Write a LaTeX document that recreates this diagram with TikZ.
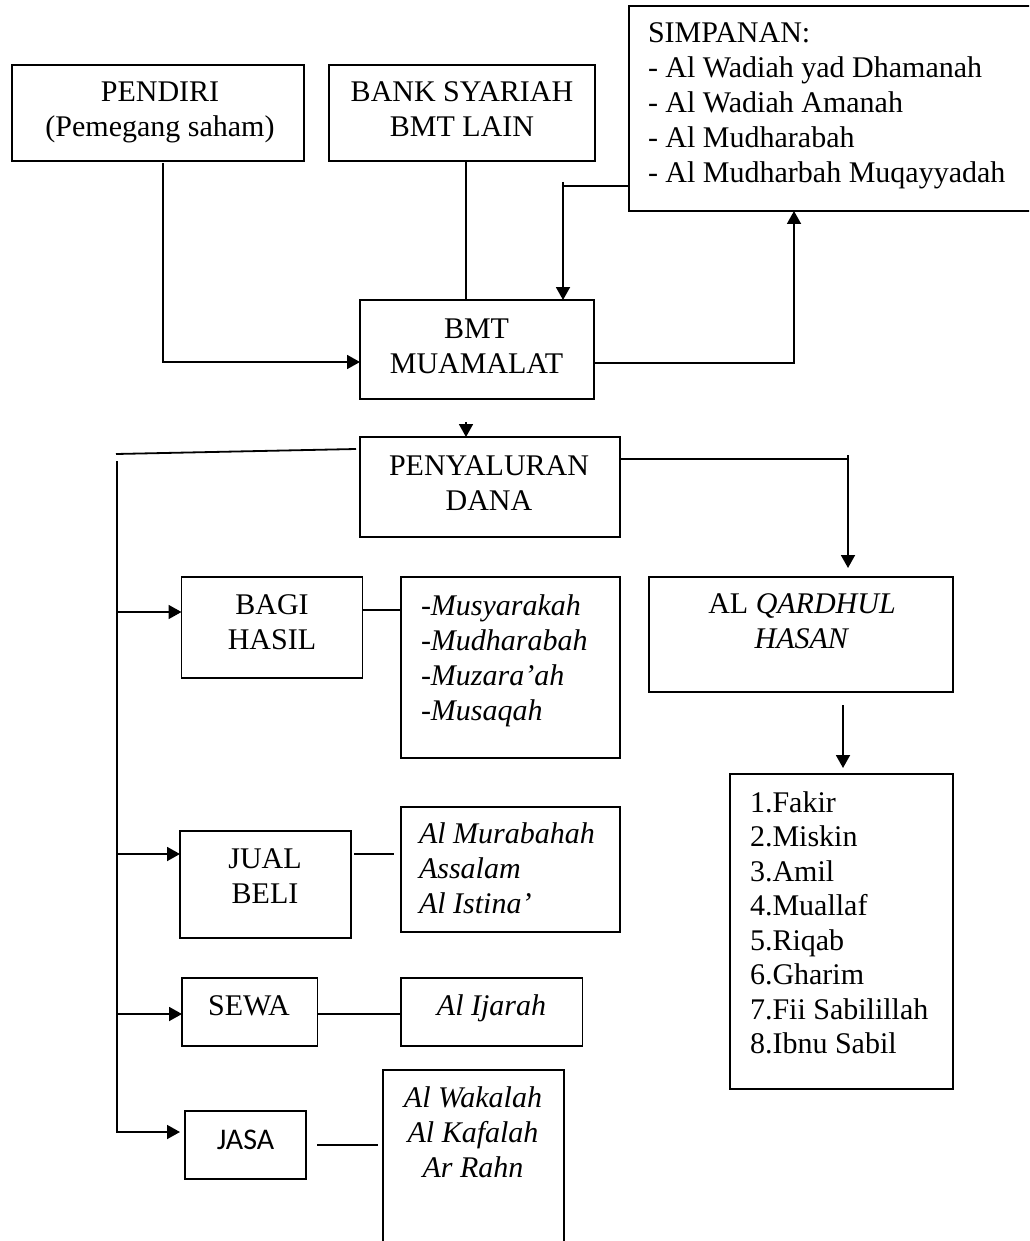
\documentclass[tikz,border=0pt]{standalone}
\usepackage{fontspec}
\setmainfont{Liberation Serif}
\newfontfamily\carl{Carlito}
\usetikzlibrary{arrows.meta,calc}
\newcommand{\ctext}[1]{\begin{tabular}[t]{@{}c@{}}#1\end{tabular}}
\newcommand{\ltext}[1]{\begin{tabular}[t]{@{}l@{}}#1\end{tabular}}
\begin{document}
\begin{tikzpicture}[x=1pt,y=-1pt,
  box/.style={draw, line width=1.8pt, inner sep=0pt, outer sep=0pt},
  con/.style={line width=1.8pt},
  arr/.style={con, -{Triangle[length=13pt,width=14pt]}},
  txt/.style={inner sep=0pt, outer sep=0pt},
  fA/.style={font=\fontsize{30}{35}\selectfont},
  fAi/.style={font=\fontsize{30}{35}\selectfont\itshape},
  fD/.style={font=\fontsize{30}{34.5}\selectfont},
  fS/.style={font=\fontsize{30}{35}\selectfont\carl}]
\useasboundingbox (0,0) rectangle (1029,1241);
\fill[white] (0,0) rectangle (1029,1241);
\clip (0,0) rectangle (1029,1241);

% boxes
\node[box, minimum width=292pt, minimum height=96pt] (pendiri) at (158,113) {};
\node[box, minimum width=266pt, minimum height=96pt] (bank) at (462,113) {};
\node[box, minimum width=411pt, minimum height=205pt] (simpanan) at (834.5,108.5) {};
\node[box, minimum width=234pt, minimum height=99pt] (bmt) at (477,349.5) {};
\node[box, minimum width=260pt, minimum height=100pt] (penyaluran) at (490,487) {};
\node[box, minimum width=304pt, minimum height=115pt] (qardh) at (801,634.5) {};
\node[box, minimum width=223pt, minimum height=315pt] (fakir) at (841.5,931.5) {};
\node[box, minimum width=181pt, minimum height=101pt] (bagi) at (272,627.5) {};
\node[box, minimum width=219pt, minimum height=181pt] (musy) at (510.5,667.5) {};
\node[box, minimum width=171pt, minimum height=107pt] (jual) at (265.5,884.5) {};
\node[box, minimum width=219pt, minimum height=125pt] (murab) at (510.5,869.5) {};
\node[box, minimum width=135.5pt, minimum height=68pt] (sewa) at (249.75,1012) {};
\node[box, minimum width=181.5pt, minimum height=68pt] (ijarah) at (491.75,1012) {};
\node[box, minimum width=121pt, minimum height=68pt] (jasa) at (245.5,1145) {};
\node[box, minimum width=181pt, minimum height=190pt] (wakalah) at (473.5,1165) {};

% texts
\node[txt,fA,anchor=base] (tpendiri) at (160,102) {\ctext{PENDIRI\\(Pemegang saham)}};
\node[txt,fA,anchor=base] (tbank) at (462,102) {\ctext{BANK SYARIAH\\BMT LAIN}};
\node[txt,fA,anchor=base] (tbmt) at (476.5,338) {\ctext{BMT\\MUAMALAT}};
\node[txt,fA,anchor=base west] (tsimp) at (648,43) {\ltext{SIMPANAN:\\- Al Wadiah yad Dhamanah\\- Al Wadiah Amanah\\- Al Mudharabah\\- Al Mudharbah Muqayyadah}};
\node[txt,fA,anchor=base] (tpeny) at (489,475) {\ctext{PENYALURAN\\DANA}};
\node[txt,fA,anchor=base] (tbagi) at (272,614) {\ctext{BAGI\\HASIL}};
\node[txt,fAi,anchor=base west] (tmusy) at (421,615) {\ltext{-Musyarakah\\-Mudharabah\\-Muzara’ah\\-Musaqah}};
\node[txt,fA,anchor=base] (tqardh) at (802,613) {\ctext{AL \textit{QARDHUL}\\\textit{HASAN}}};
\node[txt,fD,anchor=base west] (tfakir) at (750,812) {\ltext{1.Fakir\\2.Miskin\\3.Amil\\4.Muallaf\\5.Riqab\\6.Gharim\\7.Fii Sabilillah\\8.Ibnu Sabil}};
\node[txt,fA,anchor=base] (tjual) at (265,868) {\ctext{JUAL\\BELI}};
\node[txt,fAi,anchor=base west] (tmurab) at (419,843) {\ltext{Al Murabahah\\Assalam\\Al Istina’}};
\node[txt,fA,anchor=base] (tsewa) at (249,1015) {SEWA};
\node[txt,fAi,anchor=base] (tijarah) at (491.5,1015) {Al Ijarah};
\node[txt,fS,anchor=base] (tjasa) at (245.5,1149) {JASA};
\node[txt,fAi,anchor=base] (twakalah) at (473,1107) {\ctext{Al Wakalah\\Al Kafalah\\Ar Rahn}};

% coordinates for bends and free ends
\coordinate (cP) at (163,0);
\coordinate (cPy) at (0,362);
\coordinate (cB) at (466,0);
\coordinate (cS) at (563,186);
\coordinate (cR) at (794,363);
\coordinate (cT) at (466,422);
\coordinate (cL1) at (356,449);
\coordinate (cL2) at (116,454);
\coordinate (cV1) at (117,461);
\coordinate (cV2) at (117,1133);
\coordinate (aB) at (117,612);
\coordinate (aJ) at (116,854);
\coordinate (aS) at (117,1014);
\coordinate (aJa) at (116,1132);
\coordinate (lB) at (0,610);
\coordinate (lJ1) at (354,854);
\coordinate (lJ2) at (394,854);
\coordinate (lW1) at (317,1145);
\coordinate (lW2) at (377.5,1145);
\coordinate (cQ) at (848,459);
\coordinate (cF) at (843,705);

% connectors
\draw[arr] ($(pendiri.south -| cP)+(0,2)$) |- (bmt.west |- cPy);
\draw[con] (bank.south -| cB) -- (bmt.north -| cB);
\draw[con] (simpanan.west |- cS) -- (cS);
\draw[arr] ($(cS)+(0,-4)$) -- (bmt.north -| cS);
\draw[arr] (bmt.east |- cR) -| (simpanan.south -| cR);
\draw[arr] (cT) -- (penyaluran.north -| cT);
\draw[con] (cL1) -- (cL2);
\draw[con] (cV1) -- (cV2);
\draw[arr] (aB) -- (bagi.west |- aB);
\draw[arr] (aJ) -- (jual.west |- aJ);
\draw[arr] (aS) -- (sewa.west |- aS);
\draw[arr] (aJa) -- ($(jasa.west |- aJa)+(-5,0)$);
\draw[con] (bagi.east |- lB) -- (musy.west |- lB);
\draw[con] (lJ1) -- (lJ2);
\draw[con] (sewa.east |- aS) -- (ijarah.west |- aS);
\draw[con] (lW1) -- (lW2);
\draw[con] (penyaluran.east |- cQ) -- (cQ);
\draw[arr] ($(cQ)+(0,-4)$) -- ($(qardh.north -| cQ)+(0,-9)$);
\draw[arr] (cF) -- ($(fakir.north -| cF)+(0,-6)$);
\end{tikzpicture}
\end{document}
